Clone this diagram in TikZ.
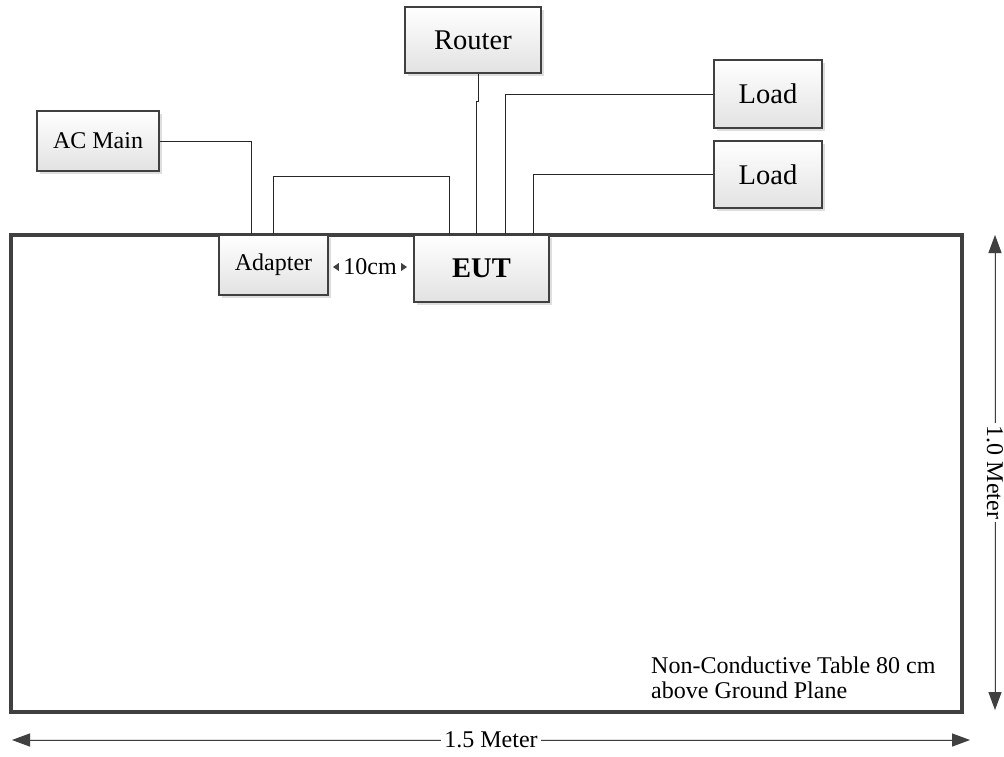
\documentclass[tikz,border=0pt]{standalone}
\usepackage{fontspec}
\setmainfont{Liberation Serif}
\usetikzlibrary{shadows,arrows.meta}
\definecolor{edge}{HTML}{404040}
\definecolor{shade}{HTML}{E2E2E2}
\tikzset{
 box/.style={draw=edge, line width=2pt, shading=axis, top color=white, bottom color=shade,
   drop shadow={shadow xshift=3pt, shadow yshift=-3pt, fill=black!13, opacity=1},
   inner sep=0pt, font=\fontsize{24}{28}\selectfont},
 bigbox/.style={box, font=\fontsize{28.5}{32}\selectfont},
 wire/.style={draw=black!85, line width=1pt},
 dim/.style={draw=edge, line width=1pt, {Triangle[length=18pt,width=13pt]}-{Triangle[length=18pt,width=13pt]}},
 dimshadow/.style={draw=black!12, line width=1.5pt, {Triangle[length=18pt,width=13pt]}-{Triangle[length=18pt,width=13pt]}},
 smalldim/.style={draw=edge, line width=1pt, {Triangle[length=6pt,width=8pt]}-{Triangle[length=6pt,width=8pt]}},
 lbl/.style={font=\fontsize{24}{25}\selectfont, fill=white, inner sep=0pt, inner xsep=3pt},
 tablebox/.style={draw=edge, line width=3.5pt, inner sep=0pt},
}
\begin{document}
\begin{tikzpicture}[x=1pt,y=-1pt]
\useasboundingbox (0,0) rectangle (1004,756);
% table
\node[tablebox, minimum width=951pt, minimum height=477pt] (table) at (486.5,473.5) {};
\node[anchor=north west, align=left, inner sep=0pt, font=\fontsize{24}{25}\selectfont] (tabletext) at (651,656.5) {Non-Conductive Table 80 cm\\above Ground Plane};
% boxes
\node[box, minimum width=122pt, minimum height=60pt] (acmain) at (98,141) {AC Main};
\node[box, minimum width=109pt, minimum height=60pt] (adapter) at (273.5,265) {Adapter};
\node[bigbox, minimum width=135pt, minimum height=67pt] (eut) at (481.5,268.5) {\textbf{EUT}};
\node[bigbox, minimum width=136pt, minimum height=66pt] (router) at (473,40) {Router};
\node[bigbox, minimum width=108pt, minimum height=68pt] (load1) at (768,94) {Load};
\node[bigbox, minimum width=108pt, minimum height=67pt] (load2) at (768,174.5) {Load};
% wires
\draw[wire] (acmain.east) -| ([xshift=-22.5pt]adapter.north);
\draw[wire] ([xshift=-0.5pt]adapter.north) -- ++(0,-58) -| ([xshift=-32.5pt]eut.north);
\draw[wire] ([xshift=5pt]router.south) -- ++(0,27) -- ++(-1.5,0) -- ([xshift=-5pt]eut.north);
\draw[wire] (load1.west) -| ([xshift=23.5pt]eut.north);
\draw[wire] (load2.west) -| ([xshift=51.5pt]eut.north);
% 10cm
\draw[smalldim] ([xshift=4pt,yshift=-2pt]adapter.east) -- node[lbl, inner xsep=4pt] (tencm) {10cm} ([xshift=-6pt,yshift=-2pt]adapter.east -| eut.west);
% dimensions
\coordinate (hl) at (12,740);
\coordinate (hr) at (970,740);
\coordinate (vt) at (995,235);
\coordinate (vb) at (995,710);
\draw[dimshadow, xshift=2pt, yshift=-2pt] (hl) -- (hr);
\draw[dimshadow, xshift=2pt, yshift=-2pt] (vt) -- (vb);
\draw[dim] (hl) -- node[lbl] (w) {1.5 Meter} (hr);
\draw[dim] (vt) -- node[lbl, rotate=-90] (h) {1.0 Meter} (vb);
\end{tikzpicture}
\end{document}
